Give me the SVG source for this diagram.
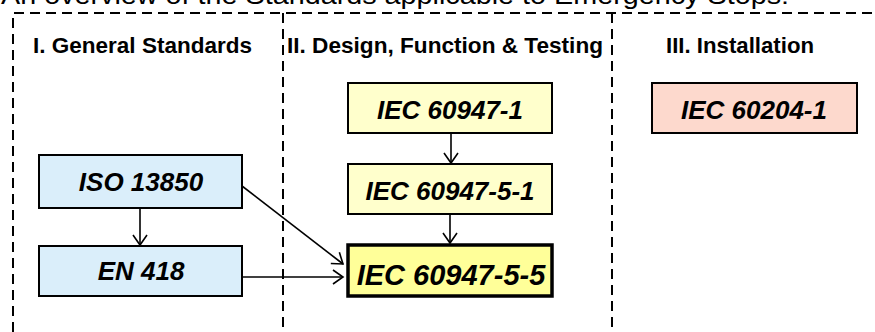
<svg xmlns="http://www.w3.org/2000/svg" width="875" height="332" viewBox="0 0 875 332">
  <style>
    .title { font-family: "Liberation Sans", Arial, sans-serif; font-size: 26px; fill: #000; }
    .hdr { font-family: "Liberation Sans", Arial, sans-serif; font-size: 22px; font-weight: bold; fill: #000; }
    .lbl { font-family: "Liberation Sans", Arial, sans-serif; font-size: 26px; font-weight: bold; font-style: italic; fill: #000; text-anchor: middle; }
    .big { font-size: 29px; }
    .dash { fill: none; stroke: #000; stroke-width: 2; stroke-dasharray: 10 6; }
    .box { stroke: #000; stroke-width: 2; }
    .blue { fill: #DAEEFA; }
    .pale { fill: #FFFFCC; }
    .bright { fill: #FFFF99; stroke-width: 3.5; }
    .pink { fill: #FDD9CD; }
    .conn { fill: none; stroke: #000; stroke-width: 1.6; marker-end: url(#arr); }
  </style>
  <defs>
    <marker id="arr" markerUnits="userSpaceOnUse" markerWidth="16" markerHeight="18" refX="12" refY="9" orient="auto">
      <path d="M2,2 L12,9 L2,16" fill="none" stroke="#000" stroke-width="1.6"/>
    </marker>
  </defs>

  <text class="title" x="1" y="4" textLength="788" lengthAdjust="spacingAndGlyphs">An overview of the Standards applicable to Emergency Stops:</text>

  <g id="frame">
    <path class="dash" d="M13,332 L13,13 L875,13"/>
    <path class="dash" d="M283,13 L283,332"/>
    <path class="dash" d="M612,13 L612,332"/>
  </g>

  <g id="headers">
    <text class="hdr" x="33" y="53" textLength="219" lengthAdjust="spacingAndGlyphs">I. General Standards</text>
    <text class="hdr" x="287" y="53" textLength="316" lengthAdjust="spacingAndGlyphs">II. Design, Function &amp; Testing</text>
    <text class="hdr" x="666" y="53" textLength="148" lengthAdjust="spacingAndGlyphs">III. Installation</text>
  </g>

  <g id="connectors">
    <line class="conn" x1="140" y1="208" x2="140" y2="245"/>
    <line class="conn" x1="242" y1="186" x2="343" y2="264"/>
    <line class="conn" x1="242" y1="277" x2="343" y2="277"/>
    <line class="conn" x1="451" y1="133" x2="451" y2="163"/>
    <line class="conn" x1="450" y1="214" x2="450" y2="243"/>
  </g>

  <g id="iso13850">
    <rect class="box blue" x="39" y="155" width="203" height="53"/>
    <text class="lbl" x="141" y="191">ISO 13850</text>
  </g>
  <g id="en418">
    <rect class="box blue" x="39" y="246" width="203" height="50"/>
    <text class="lbl" x="141" y="280">EN 418</text>
  </g>
  <g id="iec60947-1">
    <rect class="box pale" x="348" y="83" width="204" height="50"/>
    <text class="lbl" x="450" y="119">IEC 60947-1</text>
  </g>
  <g id="iec60947-5-1">
    <rect class="box pale" x="348" y="164" width="204" height="50"/>
    <text class="lbl" x="450" y="200">IEC 60947-5-1</text>
  </g>
  <g id="iec60947-5-5">
    <rect class="box bright" x="348" y="245" width="204" height="51"/>
    <text class="lbl big" x="451" y="285">IEC 60947-5-5</text>
  </g>
  <g id="iec60204-1">
    <rect class="box pink" x="652" y="83" width="205" height="50"/>
    <text class="lbl" x="754" y="119">IEC 60204-1</text>
  </g>
</svg>
